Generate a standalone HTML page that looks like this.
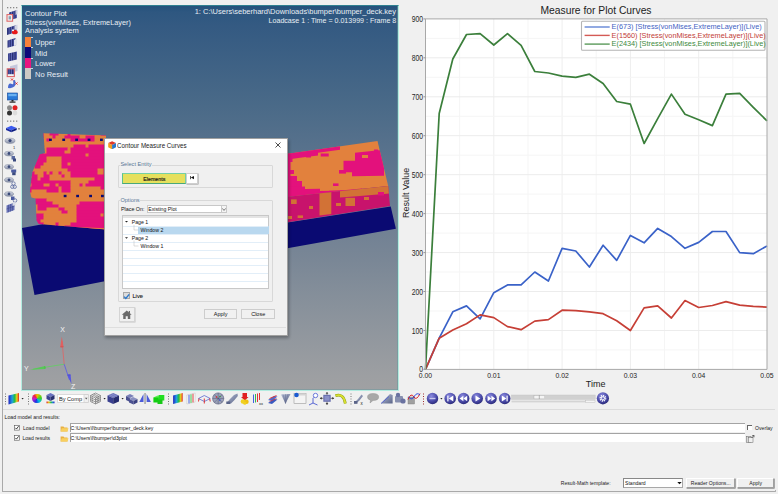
<!DOCTYPE html>
<html><head><meta charset="utf-8">
<style>
*{margin:0;padding:0;box-sizing:border-box}
html,body{width:778px;height:494px;overflow:hidden;background:#f0f0f0;font-family:"Liberation Sans",sans-serif}
.abs{position:absolute}
#vp{position:absolute;left:21px;top:5px;width:378px;height:386px;border:1px solid #b2ece0;border-top-color:#2f8090;box-shadow:inset -0.6px -0.6px 0 #6a9aa0;
 background:linear-gradient(to bottom,#24527c 0px,#2e5780 6px,#345a82 20px,#4a6a88 100px,#6a7c92 200px,#7a8796 255px,#858f9a 290px,#9d9fa2 370px,#a0a1a3 386px)}
.vt{position:absolute;color:#e8eef4;font-size:7.5px;white-space:nowrap;line-height:9px}
.sw{position:absolute;left:3.4px;width:5.5px;height:10.6px}
#chart text{font-family:"Liberation Sans",sans-serif}
.dlg{position:absolute;left:104px;top:138px;width:183px;height:197px;background:#f0f0f0;border:1px solid #b8b8b8;box-shadow:0 1px 3px rgba(0,0,0,.35)}
.ui{font-size:6px;color:#222;white-space:nowrap;position:absolute}
</style></head><body>
<!-- left border lines -->
<div class="abs" style="left:2px;top:0;width:1px;height:492px;background:#a9a9a9"></div>
<div class="abs" style="left:2px;top:490.8px;width:774px;height:1px;background:#a9a9a9"></div><div class="abs" style="left:775px;top:489.5px;width:1px;height:2px;background:#b0b0b0"></div>

<!-- viewport -->
<div id="vp">
  <div class="vt" style="left:3px;top:3px">Contour Plot</div>
  <div class="vt" style="left:3px;top:11.5px;font-size:7.3px">Stress(vonMises, ExtremeLayer)</div>
  <div class="vt" style="left:3px;top:20px">Analysis system</div>
  <div class="sw" style="top:30.9px;background:#f5813a"></div>
  <div class="sw" style="top:41.4px;background:#0a0a7a"></div>
  <div class="sw" style="top:51.9px;background:#e8157f"></div>
  <div class="sw" style="top:62.4px;background:#cdc9c4"></div>
  <div class="abs" style="left:8.9px;top:30.9px;width:2px;height:0.6px;background:#c8d4e4"></div>
  <div class="abs" style="left:8.9px;top:41.4px;width:2px;height:0.6px;background:#c8d4e4"></div>
  <div class="abs" style="left:8.9px;top:51.9px;width:2px;height:0.6px;background:#c8d4e4"></div>
  <div class="abs" style="left:8.9px;top:62.4px;width:2px;height:0.6px;background:#c8d4e4"></div>
  <div class="vt" style="left:13px;top:32px">Upper</div>
  <div class="vt" style="left:13px;top:42.5px">Mid</div>
  <div class="vt" style="left:13px;top:53px">Lower</div>
  <div class="vt" style="left:13px;top:63.5px">No Result</div>
  <div class="vt" style="right:2px;top:1.2px;text-align:right">1: C:\Users\seberhard\Downloads\bumper\bumper_deck.key</div>
  <div class="vt" style="right:2px;top:10.2px;text-align:right;transform:scaleX(0.944);transform-origin:100% 0">Loadcase 1 : Time = 0.013999 : Frame 8</div>
</div>

<!-- model -->
<svg class="abs" style="left:0;top:0" width="778" height="494" viewBox="0 0 778 494">
  <defs>
    <clipPath id="clL"><polygon points="43.4,133.3 106,135.6 106,229.5 38.7,224 36.6,220.6 35.6,198.5 31.4,197.5 29.9,191.2 32.4,172.2 39.8,154.3 45,153.3"/></clipPath>
    <clipPath id="clRT"><polygon points="286,153.9 377.5,140.9 388.2,185.9 286,197"/></clipPath>
    <clipPath id="clRS"><polygon points="286,197 388.2,185.9 390,206 286,222.6"/></clipPath>
  </defs>
  <polygon points="22,228 44,224 106,229 106,281 34.5,295" fill="#0a0a72"/>
  <polygon points="286,222.8 390.7,206.5 395.9,228.8 286,248.6" fill="#0a0a72"/>
  <g clip-path="url(#clL)"><rect x="28.5" y="132.5" width="15.5" height="3.6" fill="#e3117c"/><rect x="43.5" y="132.5" width="6.5" height="3.6" fill="#e2813d"/><rect x="49.5" y="132.5" width="9.5" height="3.6" fill="#e3117c"/><rect x="58.5" y="132.5" width="9.5" height="3.6" fill="#e2813d"/><rect x="67.5" y="132.5" width="3.5" height="3.6" fill="#e3117c"/><rect x="70.5" y="132.5" width="30.5" height="3.6" fill="#e2813d"/><rect x="100.5" y="132.5" width="6.5" height="3.6" fill="#e3117c"/><rect x="28.5" y="135.5" width="6.5" height="3.6" fill="#e2813d"/><rect x="34.5" y="135.5" width="9.5" height="3.6" fill="#e3117c"/><rect x="43.5" y="135.5" width="9.5" height="3.6" fill="#e2813d"/><rect x="52.5" y="135.5" width="3.5" height="3.6" fill="#e3117c"/><rect x="55.5" y="135.5" width="9.5" height="3.6" fill="#e2813d"/><rect x="64.5" y="135.5" width="15.5" height="3.6" fill="#e3117c"/><rect x="79.5" y="135.5" width="6.5" height="3.6" fill="#e2813d"/><rect x="85.5" y="135.5" width="9.5" height="3.6" fill="#e3117c"/><rect x="94.5" y="135.5" width="12.5" height="3.6" fill="#e2813d"/><rect x="28.5" y="138.5" width="9.5" height="3.6" fill="#e2813d"/><rect x="37.5" y="138.5" width="3.5" height="3.6" fill="#e3117c"/><rect x="40.5" y="138.5" width="6.5" height="3.6" fill="#e2813d"/><rect x="46.5" y="138.5" width="3.5" height="3.6" fill="#e3117c"/><rect x="49.5" y="138.5" width="21.5" height="3.6" fill="#e2813d"/><rect x="70.5" y="138.5" width="24.5" height="3.6" fill="#e3117c"/><rect x="94.5" y="138.5" width="12.5" height="3.6" fill="#e2813d"/><rect x="28.5" y="141.5" width="6.5" height="3.6" fill="#e3117c"/><rect x="34.5" y="141.5" width="72.5" height="3.6" fill="#e2813d"/><rect x="28.5" y="144.5" width="45.5" height="3.6" fill="#e2813d"/><rect x="73.5" y="144.5" width="12.5" height="3.6" fill="#e3117c"/><rect x="85.5" y="144.5" width="3.5" height="3.6" fill="#e2813d"/><rect x="88.5" y="144.5" width="18.5" height="3.6" fill="#e3117c"/><rect x="28.5" y="147.5" width="3.5" height="3.6" fill="#e3117c"/><rect x="31.5" y="147.5" width="15.5" height="3.6" fill="#e2813d"/><rect x="46.5" y="147.5" width="21.5" height="3.6" fill="#e3117c"/><rect x="67.5" y="147.5" width="3.5" height="3.6" fill="#e2813d"/><rect x="70.5" y="147.5" width="36.5" height="3.6" fill="#e3117c"/><rect x="28.5" y="150.5" width="9.5" height="3.6" fill="#e3117c"/><rect x="37.5" y="150.5" width="3.5" height="3.6" fill="#e2813d"/><rect x="40.5" y="150.5" width="3.5" height="3.6" fill="#e3117c"/><rect x="43.5" y="150.5" width="3.5" height="3.6" fill="#e2813d"/><rect x="46.5" y="150.5" width="18.5" height="3.6" fill="#e3117c"/><rect x="64.5" y="150.5" width="6.5" height="3.6" fill="#e2813d"/><rect x="70.5" y="150.5" width="36.5" height="3.6" fill="#e3117c"/><rect x="28.5" y="153.5" width="6.5" height="3.6" fill="#e2813d"/><rect x="34.5" y="153.5" width="51.5" height="3.6" fill="#e3117c"/><rect x="85.5" y="153.5" width="3.5" height="3.6" fill="#e2813d"/><rect x="88.5" y="153.5" width="18.5" height="3.6" fill="#e3117c"/><rect x="28.5" y="156.5" width="6.5" height="3.6" fill="#e2813d"/><rect x="34.5" y="156.5" width="12.5" height="3.6" fill="#e3117c"/><rect x="46.5" y="156.5" width="15.5" height="3.6" fill="#e2813d"/><rect x="61.5" y="156.5" width="45.5" height="3.6" fill="#e3117c"/><rect x="28.5" y="159.5" width="6.5" height="3.6" fill="#e2813d"/><rect x="34.5" y="159.5" width="12.5" height="3.6" fill="#e3117c"/><rect x="46.5" y="159.5" width="15.5" height="3.6" fill="#e2813d"/><rect x="61.5" y="159.5" width="45.5" height="3.6" fill="#e3117c"/><rect x="28.5" y="162.5" width="6.5" height="3.6" fill="#e2813d"/><rect x="34.5" y="162.5" width="9.5" height="3.6" fill="#e3117c"/><rect x="43.5" y="162.5" width="18.5" height="3.6" fill="#e2813d"/><rect x="61.5" y="162.5" width="6.5" height="3.6" fill="#e3117c"/><rect x="67.5" y="162.5" width="3.5" height="3.6" fill="#e2813d"/><rect x="70.5" y="162.5" width="36.5" height="3.6" fill="#e3117c"/><rect x="28.5" y="165.5" width="6.5" height="3.6" fill="#e2813d"/><rect x="34.5" y="165.5" width="6.5" height="3.6" fill="#e3117c"/><rect x="40.5" y="165.5" width="21.5" height="3.6" fill="#e2813d"/><rect x="61.5" y="165.5" width="45.5" height="3.6" fill="#e3117c"/><rect x="28.5" y="168.5" width="3.5" height="3.6" fill="#e3117c"/><rect x="31.5" y="168.5" width="36.5" height="3.6" fill="#e2813d"/><rect x="67.5" y="168.5" width="30.5" height="3.6" fill="#e3117c"/><rect x="97.5" y="168.5" width="6.5" height="3.6" fill="#e2813d"/><rect x="103.5" y="168.5" width="3.5" height="3.6" fill="#e3117c"/><rect x="28.5" y="171.5" width="6.5" height="3.6" fill="#e3117c"/><rect x="34.5" y="171.5" width="9.5" height="3.6" fill="#e2813d"/><rect x="43.5" y="171.5" width="3.5" height="3.6" fill="#e3117c"/><rect x="46.5" y="171.5" width="3.5" height="3.6" fill="#e2813d"/><rect x="49.5" y="171.5" width="3.5" height="3.6" fill="#e3117c"/><rect x="52.5" y="171.5" width="6.5" height="3.6" fill="#e2813d"/><rect x="58.5" y="171.5" width="3.5" height="3.6" fill="#e3117c"/><rect x="61.5" y="171.5" width="9.5" height="3.6" fill="#e2813d"/><rect x="70.5" y="171.5" width="27.5" height="3.6" fill="#e3117c"/><rect x="97.5" y="171.5" width="6.5" height="3.6" fill="#e2813d"/><rect x="103.5" y="171.5" width="3.5" height="3.6" fill="#e3117c"/><rect x="28.5" y="174.5" width="3.5" height="3.6" fill="#e2813d"/><rect x="31.5" y="174.5" width="6.5" height="3.6" fill="#e3117c"/><rect x="37.5" y="174.5" width="6.5" height="3.6" fill="#e2813d"/><rect x="43.5" y="174.5" width="6.5" height="3.6" fill="#e3117c"/><rect x="49.5" y="174.5" width="12.5" height="3.6" fill="#e2813d"/><rect x="61.5" y="174.5" width="3.5" height="3.6" fill="#e3117c"/><rect x="64.5" y="174.5" width="6.5" height="3.6" fill="#e2813d"/><rect x="70.5" y="174.5" width="36.5" height="3.6" fill="#e3117c"/><rect x="28.5" y="177.5" width="9.5" height="3.6" fill="#e3117c"/><rect x="37.5" y="177.5" width="3.5" height="3.6" fill="#e2813d"/><rect x="40.5" y="177.5" width="9.5" height="3.6" fill="#e3117c"/><rect x="49.5" y="177.5" width="45.5" height="3.6" fill="#e2813d"/><rect x="94.5" y="177.5" width="12.5" height="3.6" fill="#e3117c"/><rect x="28.5" y="180.5" width="42.5" height="3.6" fill="#e3117c"/><rect x="70.5" y="180.5" width="18.5" height="3.6" fill="#e2813d"/><rect x="88.5" y="180.5" width="18.5" height="3.6" fill="#e3117c"/><rect x="28.5" y="183.5" width="3.5" height="3.6" fill="#e2813d"/><rect x="31.5" y="183.5" width="12.5" height="3.6" fill="#e3117c"/><rect x="43.5" y="183.5" width="6.5" height="3.6" fill="#e2813d"/><rect x="49.5" y="183.5" width="6.5" height="3.6" fill="#e3117c"/><rect x="55.5" y="183.5" width="3.5" height="3.6" fill="#e2813d"/><rect x="58.5" y="183.5" width="12.5" height="3.6" fill="#e3117c"/><rect x="70.5" y="183.5" width="9.5" height="3.6" fill="#e2813d"/><rect x="79.5" y="183.5" width="3.5" height="3.6" fill="#e3117c"/><rect x="82.5" y="183.5" width="3.5" height="3.6" fill="#e2813d"/><rect x="85.5" y="183.5" width="21.5" height="3.6" fill="#e3117c"/><rect x="28.5" y="186.5" width="30.5" height="3.6" fill="#e3117c"/><rect x="58.5" y="186.5" width="3.5" height="3.6" fill="#e2813d"/><rect x="61.5" y="186.5" width="9.5" height="3.6" fill="#e3117c"/><rect x="70.5" y="186.5" width="30.5" height="3.6" fill="#e2813d"/><rect x="100.5" y="186.5" width="6.5" height="3.6" fill="#e3117c"/><rect x="28.5" y="189.5" width="3.5" height="3.6" fill="#e3117c"/><rect x="31.5" y="189.5" width="15.5" height="3.6" fill="#e2813d"/><rect x="46.5" y="189.5" width="12.5" height="3.6" fill="#e3117c"/><rect x="58.5" y="189.5" width="3.5" height="3.6" fill="#e2813d"/><rect x="61.5" y="189.5" width="9.5" height="3.6" fill="#e3117c"/><rect x="70.5" y="189.5" width="36.5" height="3.6" fill="#e2813d"/><rect x="28.5" y="192.5" width="78.5" height="3.6" fill="#e2813d"/><rect x="28.5" y="195.5" width="78.5" height="3.6" fill="#e2813d"/><rect x="28.5" y="198.5" width="6.5" height="3.6" fill="#e2813d"/><rect x="34.5" y="198.5" width="12.5" height="3.6" fill="#e3117c"/><rect x="46.5" y="198.5" width="60.5" height="3.6" fill="#e2813d"/><rect x="28.5" y="201.5" width="6.5" height="3.6" fill="#e2813d"/><rect x="34.5" y="201.5" width="18.5" height="3.6" fill="#e3117c"/><rect x="52.5" y="201.5" width="27.5" height="3.6" fill="#e2813d"/><rect x="79.5" y="201.5" width="27.5" height="3.6" fill="#e3117c"/><rect x="28.5" y="204.5" width="9.5" height="3.6" fill="#e2813d"/><rect x="37.5" y="204.5" width="21.5" height="3.6" fill="#e3117c"/><rect x="58.5" y="204.5" width="18.5" height="3.6" fill="#e2813d"/><rect x="76.5" y="204.5" width="30.5" height="3.6" fill="#e3117c"/><rect x="28.5" y="207.5" width="3.5" height="3.6" fill="#e3117c"/><rect x="31.5" y="207.5" width="6.5" height="3.6" fill="#e2813d"/><rect x="37.5" y="207.5" width="9.5" height="3.6" fill="#e3117c"/><rect x="46.5" y="207.5" width="12.5" height="3.6" fill="#e2813d"/><rect x="58.5" y="207.5" width="6.5" height="3.6" fill="#e3117c"/><rect x="64.5" y="207.5" width="12.5" height="3.6" fill="#e2813d"/><rect x="76.5" y="207.5" width="30.5" height="3.6" fill="#e3117c"/><rect x="28.5" y="210.5" width="3.5" height="3.6" fill="#e3117c"/><rect x="31.5" y="210.5" width="30.5" height="3.6" fill="#e2813d"/><rect x="61.5" y="210.5" width="6.5" height="3.6" fill="#e3117c"/><rect x="67.5" y="210.5" width="9.5" height="3.6" fill="#e2813d"/><rect x="76.5" y="210.5" width="30.5" height="3.6" fill="#e3117c"/><rect x="28.5" y="213.5" width="6.5" height="3.6" fill="#e2813d"/><rect x="34.5" y="213.5" width="9.5" height="3.6" fill="#e3117c"/><rect x="43.5" y="213.5" width="33.5" height="3.6" fill="#e2813d"/><rect x="76.5" y="213.5" width="24.5" height="3.6" fill="#e3117c"/><rect x="100.5" y="213.5" width="3.5" height="3.6" fill="#e2813d"/><rect x="103.5" y="213.5" width="3.5" height="3.6" fill="#e3117c"/><rect x="28.5" y="216.5" width="6.5" height="3.6" fill="#e2813d"/><rect x="34.5" y="216.5" width="9.5" height="3.6" fill="#e3117c"/><rect x="43.5" y="216.5" width="33.5" height="3.6" fill="#e2813d"/><rect x="76.5" y="216.5" width="30.5" height="3.6" fill="#e3117c"/><rect x="28.5" y="219.5" width="3.5" height="3.6" fill="#e2813d"/><rect x="31.5" y="219.5" width="9.5" height="3.6" fill="#e3117c"/><rect x="40.5" y="219.5" width="36.5" height="3.6" fill="#e2813d"/><rect x="76.5" y="219.5" width="30.5" height="3.6" fill="#e3117c"/><rect x="28.5" y="222.5" width="15.5" height="3.6" fill="#e3117c"/><rect x="43.5" y="222.5" width="12.5" height="3.6" fill="#e2813d"/><rect x="55.5" y="222.5" width="3.5" height="3.6" fill="#e3117c"/><rect x="58.5" y="222.5" width="12.5" height="3.6" fill="#e2813d"/><rect x="70.5" y="222.5" width="36.5" height="3.6" fill="#e3117c"/><rect x="28.5" y="225.5" width="30.5" height="3.6" fill="#e3117c"/><rect x="58.5" y="225.5" width="6.5" height="3.6" fill="#e2813d"/><rect x="64.5" y="225.5" width="42.5" height="3.6" fill="#e3117c"/><rect x="28.5" y="228.5" width="18.5" height="3.6" fill="#e3117c"/><rect x="46.5" y="228.5" width="21.5" height="3.6" fill="#e2813d"/><rect x="67.5" y="228.5" width="21.5" height="3.6" fill="#e3117c"/><rect x="88.5" y="228.5" width="12.5" height="3.6" fill="#e2813d"/><rect x="100.5" y="228.5" width="3.5" height="3.6" fill="#e3117c"/><rect x="103.5" y="228.5" width="3.5" height="3.6" fill="#e2813d"/><polygon points="38,225.6 106,228.2 106,230 38,227.2" fill="#e2813d"/><rect x="49.0" y="138.6" width="2.8" height="2.4" fill="#0a0a72"/><rect x="62.3" y="138.6" width="2.8" height="2.4" fill="#0a0a72"/><rect x="75.2" y="138.6" width="2.8" height="2.4" fill="#0a0a72"/><rect x="87.6" y="138.6" width="2.8" height="2.4" fill="#0a0a72"/><rect x="100.0" y="138.6" width="2.8" height="2.4" fill="#0a0a72"/><rect x="63.7" y="194.8" width="2.8" height="2.4" fill="#0a0a72"/><rect x="76.2" y="194.8" width="2.8" height="2.4" fill="#0a0a72"/><rect x="89.2" y="194.8" width="2.8" height="2.4" fill="#0a0a72"/><rect x="101.0" y="194.8" width="2.8" height="2.4" fill="#0a0a72"/></g>
  <g clip-path="url(#clRT)"><rect x="285" y="139" width="106" height="60" fill="#e2813d"/><polygon points="285,150 340,142 340,149.8 318,152.8 318,155.5 300,157.8 285,160" fill="#e3117c"/><rect x="285" y="150" width="5.5" height="50" fill="#e3117c"/><rect x="290" y="158" width="2.5" height="4" fill="#e3117c"/><rect x="290" y="170" width="4" height="4" fill="#e3117c"/><rect x="290" y="176" width="7" height="12" fill="#e3117c"/><rect x="296" y="181" width="6" height="8" fill="#e3117c"/><rect x="320.7" y="153.5" width="8" height="3" fill="#e3117c"/><rect x="306" y="155" width="5" height="2.5" fill="#e3117c"/><polygon points="285,187 305,186.5 305,189 320,188.8 320,191 346,190 362,188.5 362,200 285,200" fill="#e3117c"/><polygon points="355,152.7 381,150 384,160 384,175.8 352,176.2 352,172.3 343.5,172.3 343.5,160.7 355,160.7" fill="#e3117c"/><rect x="339" y="170" width="7" height="3.6" fill="#e3117c"/><rect x="333" y="183.4" width="5.5" height="2.6" fill="#e3117c"/><rect x="323" y="188" width="6" height="2.5" fill="#e2813d"/><rect x="374" y="149.5" width="4" height="3" fill="#e3117c"/><rect x="362" y="155" width="6" height="3" fill="#e2813d"/></g>
  <g clip-path="url(#clRS)"><rect x="285" y="183" width="108" height="42" fill="#c8136c"/><polygon points="319.5,193 331.3,192 331.3,214 319.5,215.5" fill="#d27236"/><rect x="345.5" y="197.8" width="9.5" height="8.2" fill="#d27236"/><polygon points="340,190 389,184.5 389.5,193.5 360,196 340,197.5" fill="#d27236"/><rect x="291" y="199.4" width="5.7" height="4.6" fill="#d27236"/><rect x="288" y="216" width="4" height="3" fill="#d27236"/><rect x="297.6" y="215.4" width="5.4" height="2.6" fill="#d27236"/><rect x="378" y="192" width="6" height="3.5" fill="#e3117c"/><rect x="336" y="203" width="5" height="3" fill="#d27236"/><rect x="364" y="197" width="5" height="3" fill="#d27236"/><rect x="309" y="206" width="4" height="3" fill="#d27236"/></g>
</svg>

<!-- triad -->
<svg class="abs" style="left:0;top:0" width="120" height="394" viewBox="0 0 120 394">
  <line x1="64.2" y1="364.2" x2="62" y2="341" stroke="#d86a6a" stroke-width="0.9"/>
  <polygon points="61.8,336.5 63.6,347 60.2,347.2" fill="#e06060"/>
  <ellipse cx="61.9" cy="346.8" rx="1.8" ry="0.8" fill="#d05858"/>
  <line x1="64.2" y1="364.2" x2="33" y2="369.2" stroke="#60d060" stroke-width="0.8"/>
  <polygon points="29.8,369.7 45,366 45.5,369" fill="#58c858"/>
  <ellipse cx="44.8" cy="367.5" rx="0.8" ry="1.6" fill="#50c050"/>
  <line x1="64.2" y1="364.2" x2="69.5" y2="380" stroke="#6060e0" stroke-width="0.9"/>
  <polygon points="71.5,384 67.4,375.2 70.6,374.5" fill="#5858e0"/>
  <ellipse cx="69" cy="375" rx="1.7" ry="0.8" fill="#5050d8"/>
  <g font-family="'Liberation Sans', sans-serif" font-size="7" fill="#f4f4f4" text-anchor="middle">
    <text x="62.6" y="331.6">X</text>
    <text x="26.3" y="371">Y</text>
    <text x="73.2" y="389">Z</text>
  </g>
</svg>

<!-- chart -->
<svg id="chart" class="abs" style="left:0;top:0" width="778" height="494" viewBox="0 0 778 494">
<rect x="425.5" y="18.9" width="341.5" height="350.5" fill="#fff"/>
<line x1="459.6" y1="18.9" x2="459.6" y2="369.4" stroke="#f5f5f5" stroke-width="1"/>
<line x1="493.8" y1="18.9" x2="493.8" y2="369.4" stroke="#eeeeee" stroke-width="1"/>
<line x1="528.0" y1="18.9" x2="528.0" y2="369.4" stroke="#f5f5f5" stroke-width="1"/>
<line x1="562.1" y1="18.9" x2="562.1" y2="369.4" stroke="#eeeeee" stroke-width="1"/>
<line x1="596.2" y1="18.9" x2="596.2" y2="369.4" stroke="#f5f5f5" stroke-width="1"/>
<line x1="630.4" y1="18.9" x2="630.4" y2="369.4" stroke="#eeeeee" stroke-width="1"/>
<line x1="664.5" y1="18.9" x2="664.5" y2="369.4" stroke="#f5f5f5" stroke-width="1"/>
<line x1="698.7" y1="18.9" x2="698.7" y2="369.4" stroke="#eeeeee" stroke-width="1"/>
<line x1="732.8" y1="18.9" x2="732.8" y2="369.4" stroke="#f5f5f5" stroke-width="1"/>
<line x1="425.5" y1="349.9" x2="767.0" y2="349.9" stroke="#f5f5f5" stroke-width="1"/>
<line x1="425.5" y1="330.5" x2="767.0" y2="330.5" stroke="#ececec" stroke-width="1"/>
<line x1="425.5" y1="311.0" x2="767.0" y2="311.0" stroke="#f5f5f5" stroke-width="1"/>
<line x1="425.5" y1="291.5" x2="767.0" y2="291.5" stroke="#ececec" stroke-width="1"/>
<line x1="425.5" y1="272.0" x2="767.0" y2="272.0" stroke="#f5f5f5" stroke-width="1"/>
<line x1="425.5" y1="252.6" x2="767.0" y2="252.6" stroke="#ececec" stroke-width="1"/>
<line x1="425.5" y1="233.1" x2="767.0" y2="233.1" stroke="#f5f5f5" stroke-width="1"/>
<line x1="425.5" y1="213.6" x2="767.0" y2="213.6" stroke="#ececec" stroke-width="1"/>
<line x1="425.5" y1="194.1" x2="767.0" y2="194.1" stroke="#f5f5f5" stroke-width="1"/>
<line x1="425.5" y1="174.7" x2="767.0" y2="174.7" stroke="#ececec" stroke-width="1"/>
<line x1="425.5" y1="155.2" x2="767.0" y2="155.2" stroke="#f5f5f5" stroke-width="1"/>
<line x1="425.5" y1="135.7" x2="767.0" y2="135.7" stroke="#ececec" stroke-width="1"/>
<line x1="425.5" y1="116.3" x2="767.0" y2="116.3" stroke="#f5f5f5" stroke-width="1"/>
<line x1="425.5" y1="96.8" x2="767.0" y2="96.8" stroke="#ececec" stroke-width="1"/>
<line x1="425.5" y1="77.3" x2="767.0" y2="77.3" stroke="#f5f5f5" stroke-width="1"/>
<line x1="425.5" y1="57.8" x2="767.0" y2="57.8" stroke="#ececec" stroke-width="1"/>
<line x1="425.5" y1="38.4" x2="767.0" y2="38.4" stroke="#f5f5f5" stroke-width="1"/>
<polyline points="425.5,369.4 439.2,338.2 452.8,311.8 466.5,305.9 480.1,318.8 493.8,292.7 507.5,284.9 521.1,284.9 534.8,272.0 548.4,281.0 562.1,248.3 575.8,251.0 589.4,267.0 603.1,245.2 616.7,260.4 630.4,235.4 644.1,242.8 657.7,228.4 671.4,236.6 685.0,248.3 698.7,242.4 712.4,231.5 726.0,231.5 739.7,252.6 753.3,253.7 767.0,245.9" fill="none" stroke="#3a62c8" stroke-width="1.7" stroke-linejoin="round"/>
<polyline points="425.5,369.4 439.2,338.2 452.8,330.1 466.5,323.8 480.1,314.9 493.8,317.6 507.5,326.6 521.1,329.7 534.8,321.1 548.4,319.6 562.1,310.2 575.8,310.6 589.4,311.8 603.1,313.7 616.7,320.7 630.4,330.5 644.1,307.9 657.7,305.9 671.4,318.0 685.0,300.5 698.7,307.5 712.4,305.5 726.0,301.6 739.7,305.1 753.3,306.3 767.0,307.1" fill="none" stroke="#c63f36" stroke-width="1.7" stroke-linejoin="round"/>
<polyline points="425.5,369.4 439.2,113.5 452.8,59.0 466.5,34.5 480.1,33.7 493.8,45.0 507.5,33.7 521.1,45.4 534.8,71.5 548.4,73.0 562.1,76.1 575.8,77.3 589.4,74.2 603.1,83.5 616.7,101.5 630.4,104.2 644.1,143.5 657.7,118.6 671.4,94.1 685.0,114.3 698.7,119.8 712.4,125.6 726.0,94.1 739.7,93.3 753.3,107.3 767.0,120.9" fill="none" stroke="#3b7f3b" stroke-width="1.7" stroke-linejoin="round"/>
<path d="M425.5,369.4 V18.9 H767.0 V369.4 Z" fill="none" stroke="#a8a8a8" stroke-width="1"/>
<line x1="423.5" y1="369.4" x2="425.5" y2="369.4" stroke="#999" stroke-width="1"/>
<line x1="423.5" y1="330.5" x2="425.5" y2="330.5" stroke="#999" stroke-width="1"/>
<line x1="423.5" y1="291.5" x2="425.5" y2="291.5" stroke="#999" stroke-width="1"/>
<line x1="423.5" y1="252.6" x2="425.5" y2="252.6" stroke="#999" stroke-width="1"/>
<line x1="423.5" y1="213.6" x2="425.5" y2="213.6" stroke="#999" stroke-width="1"/>
<line x1="423.5" y1="174.7" x2="425.5" y2="174.7" stroke="#999" stroke-width="1"/>
<line x1="423.5" y1="135.7" x2="425.5" y2="135.7" stroke="#999" stroke-width="1"/>
<line x1="423.5" y1="96.8" x2="425.5" y2="96.8" stroke="#999" stroke-width="1"/>
<line x1="423.5" y1="57.8" x2="425.5" y2="57.8" stroke="#999" stroke-width="1"/>
<line x1="423.5" y1="18.9" x2="425.5" y2="18.9" stroke="#999" stroke-width="1"/>
<g font-size="8.5" fill="#262626"><text transform="translate(423.1,372.4) scale(0.8,1)" text-anchor="end">0</text><text transform="translate(423.1,333.5) scale(0.8,1)" text-anchor="end">100</text><text transform="translate(423.1,294.5) scale(0.8,1)" text-anchor="end">200</text><text transform="translate(423.1,255.6) scale(0.8,1)" text-anchor="end">300</text><text transform="translate(423.1,216.6) scale(0.8,1)" text-anchor="end">400</text><text transform="translate(423.1,177.7) scale(0.8,1)" text-anchor="end">500</text><text transform="translate(423.1,138.7) scale(0.8,1)" text-anchor="end">600</text><text transform="translate(423.1,99.8) scale(0.8,1)" text-anchor="end">700</text><text transform="translate(423.1,60.8) scale(0.8,1)" text-anchor="end">800</text><text transform="translate(423.1,21.9) scale(0.8,1)" text-anchor="end">900</text></g>
<g font-size="7.8" fill="#262626"><text transform="translate(425.5,378.05) scale(0.88,1)" text-anchor="middle">0.00</text><text transform="translate(493.8,378.05) scale(0.88,1)" text-anchor="middle">0.01</text><text transform="translate(562.1,378.05) scale(0.88,1)" text-anchor="middle">0.02</text><text transform="translate(630.4,378.05) scale(0.88,1)" text-anchor="middle">0.03</text><text transform="translate(698.7,378.05) scale(0.88,1)" text-anchor="middle">0.04</text><text transform="translate(767.0,378.05) scale(0.88,1)" text-anchor="middle">0.05</text></g>
<text x="595.7" y="386.6" font-size="9" fill="#222" text-anchor="middle">Time</text>
<text transform="translate(408.5,192.8) rotate(-90)" font-size="9" fill="#222" text-anchor="middle">Result Value</text>
<text x="596" y="13.8" font-size="10.3" fill="#222" text-anchor="middle">Measure for Plot Curves</text>
<rect x="581.5" y="21.3" width="183.5" height="28.9" rx="1" fill="#fff" stroke="#b4b4b4" stroke-width="1.1"/>
<line x1="584.6" y1="27" x2="609.7" y2="27" stroke="#6486d6" stroke-width="1.4"/>
<line x1="584.6" y1="35.4" x2="609.7" y2="35.4" stroke="#d45a55" stroke-width="1.4"/>
<line x1="584.6" y1="44.1" x2="609.7" y2="44.1" stroke="#5a9a5a" stroke-width="1.4"/>
<g font-size="7.3">
<text x="611.6" y="29.2" fill="#3f63c4">E(673) [Stress(vonMises,ExtremeLayer)](Live)</text>
<text x="611.6" y="37.6" fill="#c24038">E(1560) [Stress(vonMises,ExtremeLayer)](Live)</text>
<text x="611.6" y="46.4" fill="#3d8a3d">E(2434) [Stress(vonMises,ExtremeLayer)](Live)</text>
</g>
</svg>

<!-- dialog -->
<div class="abs" style="left:104px;top:138px;width:183.6px;height:197.6px;background:#f0f0f0;border:1px solid #a0a0a0;box-shadow:1px 2px 3px rgba(0,0,0,.3)"></div>
<div class="abs" style="left:105px;top:139px;width:181.6px;height:13.6px;background:#fff"></div>
<svg class="abs" style="left:107.5px;top:140.8px" width="8.2" height="8.4" viewBox="0 0 8.2 8.4">
  <polygon points="4.1,0.2 8,2 4.1,3.9 0.2,2" fill="#e03a2a"/>
  <polygon points="0.2,2 4.1,3.9 4.1,8.3 0.2,6.3" fill="#f0a020"/>
  <polygon points="8,2 4.1,3.9 4.1,8.3 8,6.3" fill="#2a78c8"/>
</svg>
<div class="ui" style="left:117px;top:141.6px;font-size:7px;color:#1a1a1a;transform:scaleX(0.89);transform-origin:0 0">Contour Measure Curves</div>
<svg class="abs" style="left:274.9px;top:142.3px" width="6" height="6" viewBox="0 0 6 6"><path d="M0.5,0.5 L5.5,5.5 M5.5,0.5 L0.5,5.5" stroke="#222" stroke-width="0.8"/></svg>

<!-- select entity group -->
<div class="abs" style="left:118.3px;top:165.4px;width:154.6px;height:22.8px;border:1px solid #d8d8d8;border-radius:1px"></div>
<div class="ui" style="left:119.8px;top:161.3px;font-size:5.6px;color:#5a7896;background:#f0f0f0;padding:0 0.6px">Select Entity</div>
<div class="abs" style="left:122.3px;top:172.8px;width:64.1px;height:11.1px;background:#e6e05c;border:1px solid #74d0a4;border-left-color:#5cc48c;border-bottom-color:#4aa878"></div>
<div class="ui" style="left:122.3px;top:175.5px;width:64.1px;text-align:center;font-size:5.3px;color:#111;-webkit-text-stroke:0.15px #111">Elements</div>
<div class="abs" style="left:186.4px;top:172.8px;width:12px;height:11.1px;background:#fff;border:1px solid #cfcfcf;box-shadow:0.5px 0.5px 0 #999"></div>
<svg class="abs" style="left:189.6px;top:176.4px" width="4" height="3.2" viewBox="0 0 5 4"><rect x="0" y="0" width="0.9" height="4" fill="#111"/><polygon points="5,0 1,2 5,4" fill="#111"/></svg>

<!-- options group -->
<div class="abs" style="left:118.3px;top:200.4px;width:154.6px;height:101.6px;border:1px solid #d8d8d8;border-radius:1px"></div>
<div class="ui" style="left:119.8px;top:196.8px;font-size:5.6px;color:#5a7896;background:#f0f0f0;padding:0 0.6px">Options</div>
<div class="ui" style="left:120.9px;top:206.3px;font-size:5.4px;color:#111">Place On:</div>
<div class="abs" style="left:146.6px;top:204.6px;width:80.7px;height:8.9px;background:#fff;border:1px solid #c8c8c8"></div>
<div class="abs" style="left:220.8px;top:204.6px;width:6.5px;height:8.9px;background:#f4f4f4;border:1px solid #c8c8c8"></div>
<svg class="abs" style="left:222.4px;top:207.8px" width="4" height="3" viewBox="0 0 4 3"><path d="M0.3,0.4 L2,2.4 L3.7,0.4" fill="none" stroke="#444" stroke-width="0.7"/></svg>
<div class="ui" style="left:148.2px;top:206.4px;font-size:5.2px;color:#111">Existing Plot</div>

<!-- tree -->
<div class="abs" style="left:121.9px;top:214.7px;width:147.5px;height:74px;background:#fff;border:1px solid #c8c8c8"></div>
<div class="abs" style="left:122.9px;top:215.7px;width:145.5px;height:2px;background:#e4e4e4"></div>
<div class="abs" style="left:138.4px;top:226.3px;width:130.8px;height:7.3px;background:#b9d8ef"></div>
<div class="abs" style="left:122.9px;top:233.9px;width:145.5px;height:0.6px;background:#e2eef8"></div>
<div class="abs" style="left:122.9px;top:241.8px;width:145.5px;height:0.6px;background:#e2eef8"></div>
<div class="abs" style="left:122.9px;top:249.7px;width:145.5px;height:0.6px;background:#e2eef8"></div>
<div class="abs" style="left:122.9px;top:257.5px;width:145.5px;height:0.6px;background:#e2eef8"></div>
<div class="abs" style="left:122.9px;top:265.3px;width:145.5px;height:0.6px;background:#e2eef8"></div>
<div class="abs" style="left:122.9px;top:273.1px;width:145.5px;height:0.6px;background:#e2eef8"></div>
<div class="abs" style="left:122.9px;top:280.9px;width:145.5px;height:0.6px;background:#e2eef8"></div>
<div class="abs" style="left:122.9px;top:225.9px;width:145.5px;height:0.6px;background:#e2eef8"></div>
<svg class="abs" style="left:124.5px;top:221px" width="3" height="20" viewBox="0 0 3 20"><polygon points="0,0 3,0 1.5,1.6" fill="#222"/><polygon points="0,16.2 3,16.2 1.5,17.8" fill="#222"/></svg>
<svg class="abs" style="left:133px;top:225px" width="6" height="24" viewBox="0 0 6 24"><path d="M1,0 V5 H5.5 M1,15.5 V21 H5.5" fill="none" stroke="#b8b8b8" stroke-width="0.5"/></svg>
<div class="ui" style="left:131.7px;top:219px;font-size:5.2px;color:#111">Page 1</div>
<div class="ui" style="left:140.5px;top:226.8px;font-size:5.2px;color:#111">Window 2</div>
<div class="ui" style="left:131.7px;top:235px;font-size:5.2px;color:#111">Page 2</div>
<div class="ui" style="left:140.5px;top:243.3px;font-size:5.2px;color:#111">Window 1</div>

<!-- live checkbox -->
<div class="abs" style="left:122.5px;top:292.3px;width:7.3px;height:7.1px;background:#dcdcdc;border:1px solid #a8a8a8"></div>
<svg class="abs" style="left:123px;top:292.6px" width="7" height="7" viewBox="0 0 7 7"><path d="M1.1,3.6 L2.8,5.5 L6.2,1.4" fill="none" stroke="#2a78cc" stroke-width="1.4"/></svg>
<div class="ui" style="left:132.4px;top:293.2px;font-size:5.8px;color:#111;-webkit-text-stroke:0.1px #111">Live</div>

<!-- buttons -->
<div class="abs" style="left:119px;top:306.5px;width:15.7px;height:15.1px;background:#f0f0f0;border:1px solid #d4d4d4;box-shadow:0.5px 0.5px 0 #c4c4c4"></div>
<svg class="abs" style="left:121px;top:310.3px" width="11.5" height="9.5" viewBox="0 0 11 10"><polygon points="5.5,0.5 10.7,5 9.2,5 9.2,9.5 6.6,9.5 6.6,6.6 4.4,6.6 4.4,9.5 1.8,9.5 1.8,5 0.3,5" fill="#6a6a6a"/><rect x="7.6" y="1" width="1.3" height="2.4" fill="#6a6a6a"/></svg>
<div class="abs" style="left:203.8px;top:309px;width:33.7px;height:9.7px;background:#f1f1f1;border:1px solid #cdcdcd"></div>
<div class="ui" style="left:203.8px;top:311.2px;width:33.7px;text-align:center;font-size:5.5px;color:#111">Apply</div>
<div class="abs" style="left:241.1px;top:309px;width:34.2px;height:9.7px;background:#f1f1f1;border:1px solid #cdcdcd"></div>
<div class="ui" style="left:241.1px;top:311.2px;width:34.2px;text-align:center;font-size:5.5px;color:#111">Close</div>
<div class="abs" style="left:105px;top:326.8px;width:181px;height:0.8px;background:#dedede"></div>


<!-- left toolbar -->
<svg class="abs" style="left:0;top:0" width="22" height="220" viewBox="0 0 22 220">
  <defs>
    <linearGradient id="gSheet" x1="0" y1="0" x2="1" y2="1"><stop offset="0" stop-color="#5a6ad0"/><stop offset="1" stop-color="#1c2470"/></linearGradient>
    <pattern id="pStripe" width="2.4" height="10" patternUnits="userSpaceOnUse"><rect width="2.4" height="10" fill="#262e72"/><rect x="1.4" width="0.9" height="10" fill="#6a72c4"/></pattern>
    <linearGradient id="gEye" x1="0" y1="0" x2="0" y2="1"><stop offset="0" stop-color="#d8dce8"/><stop offset="1" stop-color="#8890a8"/></linearGradient>
  </defs>
  <g fill="#8a8a8a"><rect x="7" y="7" width="1.3" height="1.3"/><rect x="10" y="7" width="1.3" height="1.3"/><rect x="13" y="7" width="1.3" height="1.3"/><rect x="16" y="7" width="1.3" height="1.3"/></g>
  <!-- icon1 -->
  <polygon points="9,12.5 17,10 17,18 9,20.5" fill="url(#pStripe)"/>
  <polygon points="15.5,10.5 17.5,9.8 17.5,14 15.5,15" fill="#c8cce0"/>
  <rect x="7" y="14.6" width="5.6" height="6.6" fill="#eef2f4" stroke="#e06a6a" stroke-width="1.1"/>
  <rect x="8.6" y="16.2" width="2.4" height="3.2" fill="#8aa0b0"/>
  <!-- icon2 -->
  <polygon points="7,28 16.5,25 16.5,32 7,35" fill="url(#pStripe)"/>
  <polygon points="14.5,25.7 17.5,24.5 17.5,29 14.5,30" fill="#d0d4e4"/>
  <ellipse cx="14.8" cy="32.2" rx="2.9" ry="2.1" fill="#e81818"/>
  <rect x="12" y="29.5" width="2" height="1.6" fill="#f0f0f0"/>
  <!-- icon3 -->
  <polygon points="7.5,40.5 15.5,38 15.5,45.5 7.5,47.8" fill="url(#pStripe)"/>
  <polygon points="14,40 17,38.5 17,45 14,46" fill="#e0e2ea"/>
  <!-- icon4 -->
  <polygon points="8,53.5 17,51.4 17,59.4 8,61.5" fill="url(#pStripe)"/>
  <!-- icon5 -->
  <polygon points="10,66.3 17.5,64.3 17.5,71 10,73" fill="#c4c8dc"/>
  <rect x="7.2" y="68.8" width="7.2" height="7.8" fill="url(#pStripe)" stroke="#e06a6a" stroke-width="1.1"/>
  <rect x="7.8" y="74.2" width="6" height="1.8" fill="#f4f4f4"/>
  <!-- icon6 -->
  <path d="M8,88 Q8,82 12,84 Q14,85 13,80.5 L15,80 Q17,86 12.5,87.5 Q10,88.5 10,88.3 Z" fill="#4a6ad0"/>
  <g stroke="#e02020" stroke-width="0.9"><path d="M11,78.5 l2,2 M13,78.5 l-2,2 M15.5,82.5 l2,2 M17.5,82.5 l-2,2"/></g>
  <!-- icon7 monitor -->
  <rect x="7.4" y="93" width="10.1" height="7" fill="#2a7ad8" stroke="#1a4a98" stroke-width="0.6"/>
  <rect x="8.3" y="93.8" width="8.3" height="2.4" fill="#6ab0f0"/>
  <rect x="11.5" y="100" width="2" height="1.6" fill="#222"/>
  <rect x="9.5" y="101.5" width="6" height="1.2" fill="#222"/>
  <!-- icon8 balls -->
  <circle cx="9.5" cy="107.8" r="2.5" fill="#8a8a8a"/>
  <circle cx="15" cy="107.8" r="2.5" fill="#e02020"/>
  <circle cx="9.5" cy="113" r="2.5" fill="#333"/>
  <circle cx="15" cy="113" r="2.4" fill="#ddd"/>
  <g fill="#8a8a8a"><rect x="7" y="120.5" width="1.3" height="1.3"/><rect x="10" y="120.5" width="1.3" height="1.3"/><rect x="13" y="120.5" width="1.3" height="1.3"/><rect x="16" y="120.5" width="1.3" height="1.3"/></g>
  <!-- blue cube -->
  <polygon points="6,128 11.3,125.7 16.7,128 11.3,130.3" fill="#3a5af0"/>
  <polygon points="6,128 11.3,130.3 11.3,132.2 6,130" fill="#1a2aa0"/>
  <polygon points="16.7,128 11.3,130.3 11.3,132.2 16.7,130" fill="#0a1a80"/>
  <polygon points="18,128.5 20,128.5 19,129.8" fill="#111"/>
  <!-- eyes -->
  <g>
    <ellipse cx="10" cy="140.8" rx="5" ry="2.6" fill="url(#gEye)" stroke="#7a8298" stroke-width="0.5"/>
    <circle cx="10" cy="140.6" r="1.6" fill="#3a4a78"/>
    <text x="13" y="148.5" font-size="4" fill="#333" font-family="'Liberation Sans', sans-serif">1</text>
    <ellipse cx="9" cy="153.6" rx="4.5" ry="2.3" fill="url(#gEye)" stroke="#7a8298" stroke-width="0.5"/>
    <circle cx="9" cy="153.5" r="1.4" fill="#3a4a78"/>
    <rect x="11.5" y="156" width="3.5" height="3.5" fill="#5a6aa0"/><rect x="13" y="158.5" width="3" height="3" fill="#3a4a80"/>
    <ellipse cx="9" cy="166.8" rx="4.5" ry="2.3" fill="url(#gEye)" stroke="#7a8298" stroke-width="0.5"/>
    <circle cx="9" cy="166.7" r="1.4" fill="#3a4a78"/>
    <rect x="11.2" y="169.5" width="5" height="3" fill="#4a5aa0"/><rect x="12.2" y="172.2" width="3.4" height="3" fill="#3a4a80"/>
    <ellipse cx="9" cy="179.9" rx="4.5" ry="2.3" fill="url(#gEye)" stroke="#7a8298" stroke-width="0.5"/>
    <circle cx="9" cy="179.8" r="1.4" fill="#3a4a78"/>
    <circle cx="13.5" cy="183.5" r="1.7" fill="none" stroke="#5a6aa0" stroke-width="0.8"/><circle cx="12.3" cy="186.8" r="1.7" fill="none" stroke="#5a6aa0" stroke-width="0.8"/><circle cx="14.7" cy="186.8" r="1.7" fill="none" stroke="#5a6aa0" stroke-width="0.8"/>
    <ellipse cx="9" cy="194" rx="4.5" ry="2.3" fill="url(#gEye)" stroke="#7a8298" stroke-width="0.5"/>
    <circle cx="9" cy="193.9" r="1.4" fill="#3a4a78"/>
    <rect x="11" y="196.5" width="3.5" height="3.5" fill="#4a5aa0"/><circle cx="15" cy="200.5" r="1.8" fill="none" stroke="#5a6aa0" stroke-width="0.8"/>
  </g>
  <polygon points="6.5,205.5 14.5,202.5 14.5,210 6.5,213" fill="#6a74b8"/><g stroke="#3a4488" stroke-width="0.5"><line x1="8.5" y1="204.8" x2="8.5" y2="212.3"/><line x1="10.5" y1="204" x2="10.5" y2="211.5"/><line x1="12.5" y1="203.3" x2="12.5" y2="210.8"/><line x1="6.5" y1="209" x2="14.5" y2="206"/></g><polygon points="12.5,202.8 15.5,201.8 15.5,205 12.5,206" fill="#d8dce8"/>
</svg>

<!-- bottom toolbar -->
<svg class="abs" style="left:0;top:390" width="620" height="20" viewBox="0 390 620 20">
  <defs>
    <linearGradient id="gRain" x1="0" y1="0" x2="1" y2="0"><stop offset="0" stop-color="#e02020"/><stop offset="0.3" stop-color="#f0d020"/><stop offset="0.55" stop-color="#20c040"/><stop offset="0.8" stop-color="#2080e0"/><stop offset="1" stop-color="#2020c0"/></linearGradient>
    <linearGradient id="gRain2" x1="0" y1="0" x2="1" y2="0"><stop offset="0" stop-color="#2020c0"/><stop offset="0.35" stop-color="#20a0e0"/><stop offset="0.6" stop-color="#20c040"/><stop offset="0.8" stop-color="#f0d020"/><stop offset="1" stop-color="#e02020"/></linearGradient>
    <radialGradient id="gBtn" cx="0.4" cy="0.3" r="0.75"><stop offset="0" stop-color="#8c8ce0"/><stop offset="0.6" stop-color="#4a4aa8"/><stop offset="1" stop-color="#262672"/></radialGradient>
    <linearGradient id="gCube" x1="0" y1="0" x2="1" y2="1"><stop offset="0" stop-color="#6a72b8"/><stop offset="1" stop-color="#2a3070"/></linearGradient>
    <linearGradient id="gGray" x1="0" y1="0" x2="1" y2="1"><stop offset="0" stop-color="#b8c0d8"/><stop offset="1" stop-color="#5a6488"/></linearGradient>
  </defs>
  <g fill="#777"><rect x="5" y="393.5" width="1" height="1"/><rect x="5" y="396" width="1" height="1"/><rect x="5" y="398.5" width="1" height="1"/><rect x="5" y="401" width="1" height="1"/><rect x="5" y="403.5" width="1" height="1"/></g>
  <polygon points="8.5,395.5 19,393 19,401.5 8.5,404.5" fill="url(#gRain2)"/>
  <polygon points="21.5,398 23.7,398 22.6,399.4" fill="#222"/>
  <g fill="#777"><rect x="28" y="393.5" width="1" height="1"/><rect x="28" y="396" width="1" height="1"/><rect x="28" y="398.5" width="1" height="1"/><rect x="28" y="401" width="1" height="1"/><rect x="28" y="403.5" width="1" height="1"/></g>
  <polygon points="46.5,395 50.5,393 54.5,395 50.5,397" fill="#6a72c0"/>
  <polygon points="46.5,395 50.5,397 50.5,401 46.5,399" fill="#3a4290"/>
  <polygon points="54.5,395 50.5,397 50.5,401 54.5,399" fill="#2a3070"/>
  <rect x="46.5" y="401.5" width="8" height="1.8" fill="url(#gRain)"/>
  <!-- By Comp combo -->
  <rect x="57.5" y="394.7" width="31" height="7.8" fill="#fff" stroke="#c8c8c8" stroke-width="0.6"/>
  <rect x="84" y="394.7" width="4.5" height="7.8" fill="#f0f0f0" stroke="#c8c8c8" stroke-width="0.6"/>
  <polygon points="85,397.8 87.5,397.8 86.25,399.4" fill="#555"/>
  <text x="59" y="400.8" font-size="5.6" fill="#222" font-family="'Liberation Sans', sans-serif">By Comp</text>
  <!-- wireframe cube -->
  <g fill="none" stroke="#666" stroke-width="0.6">
    <polygon points="90.5,395.5 95.5,393 100.5,395.5 100.5,401.5 95.5,404 90.5,401.5"/>
    <path d="M90.5,395.5 L95.5,398 L100.5,395.5 M95.5,398 V404 M92.2,394.7 L97.2,397.2 V403.2 M93.8,393.9 L98.8,396.4 M90.5,397.5 L95.5,400 L100.5,397.5 M90.5,399.5 L95.5,402 L100.5,399.5 M92.2,396.3 V402.3 M98.8,396.4 V402.4"/>
  </g>
  <polygon points="103.5,398 105.7,398 104.6,399.4" fill="#222"/>
  <polygon points="107.5,395.5 113.2,393 119,395.5 113.2,398" fill="#6a70b8"/>
  <polygon points="107.5,395.5 113.2,398 113.2,404 107.5,401.5" fill="#3a4090"/>
  <polygon points="119,395.5 113.2,398 113.2,404 119,401.5" fill="#262c70"/>
  <g stroke="#9aa0d8" stroke-width="0.35" fill="none"><path d="M109.4,396.3 L115.1,393.8 M111.3,397.1 L117,394.6 M109.4,394.7 L115.1,397.2 M111.3,393.9 L117,396.4"/></g>
  <polygon points="121.5,398 123.7,398 122.6,399.4" fill="#222"/>
  <polygon points="126,396 130,394 134,396 130,398" fill="#7a80b8"/>
  <polygon points="126,396 130,398 130,402 126,400" fill="#4a5090"/>
  <polygon points="129,399 133,397 137.5,399 133.5,401" fill="#8a90c0"/>
  <polygon points="129,399 133.5,401 133.5,404.5 129,402.5" fill="#4a5090"/>
  <polygon points="137.5,399 133.5,401 133.5,404.5 137.5,402.5" fill="#3a4080"/>
  <polygon points="139.3,402 143.5,394 143.5,402" fill="#4a5ad8"/>
  <rect x="144.4" y="393" width="1.3" height="11" fill="#999"/>
  <polygon points="150.9,402 146.6,394 146.6,402" fill="#4a5ad8"/>
  <polygon points="153.4,397.5 157.5,395.5 160,397 156,399" fill="#5af050"/>
  <rect x="153.4" y="397.5" width="5.5" height="5" fill="#10d010"/>
  <rect x="158.5" y="395" width="5.8" height="5.5" fill="#20e020"/>
  <rect x="157.5" y="399.5" width="5" height="4.5" fill="#18c818"/>
  <g fill="#777"><rect x="168" y="393.5" width="1" height="1"/><rect x="168" y="396" width="1" height="1"/><rect x="168" y="398.5" width="1" height="1"/><rect x="168" y="401" width="1" height="1"/><rect x="168" y="403.5" width="1" height="1"/></g>
  <polygon points="173.1,395.5 182.7,393 182.7,401.5 173.1,404" fill="url(#gRain2)"/>
  <polygon points="186.8,395 195.2,393 195.2,402 186.8,404" fill="#f4f4f4" stroke="#bbb" stroke-width="0.4"/>
  <g stroke-width="0.9"><line x1="189" y1="394.8" x2="189" y2="403.4" stroke="#3050e0"/><line x1="191" y1="394.3" x2="191" y2="402.9" stroke="#30c040"/><line x1="193" y1="393.8" x2="193" y2="402.4" stroke="#e03030"/></g>
  <polygon points="198.5,398.5 204.3,395.5 210.2,398.5 204.3,401.5" fill="none" stroke="#5a6ad0" stroke-width="0.8"/>
  <g stroke="#e02020" stroke-width="0.9"><line x1="204.3" y1="398.5" x2="204.3" y2="403.5"/><line x1="199" y1="398.5" x2="198.5" y2="401.5"/><line x1="209.7" y1="398.5" x2="210.2" y2="401.5"/></g>
  <circle cx="218.2" cy="398.5" r="5.6" fill="#9aa0b8"/>
  <circle cx="218.2" cy="398.5" r="5.6" fill="none" stroke="#555a78" stroke-width="0.6"/>
  <g stroke="#3a3f60" stroke-width="0.35" fill="none"><path d="M212.6,398.5 H223.8 M218.2,392.9 V404.1 M214.2,394.5 L222.2,402.5 M222.2,394.5 L214.2,402.5"/></g>
  <circle cx="216.5" cy="397" r="0.8" fill="#e02020"/><circle cx="219.8" cy="400" r="0.8" fill="#2040e0"/><circle cx="220" cy="396.5" r="0.7" fill="#20a020"/>
  <path d="M226.5,403 L230,399 L234,395 L237.5,393.5 L237.8,396 L234.5,400 L231,403.5 Z" fill="url(#gGray)"/>
  <rect x="226.3" y="401.5" width="4" height="2.5" fill="#5a6488"/>
  <polygon points="242.5,393 247,393 247,397 248.5,397 244.8,400.5 241,397 242.5,397" fill="#e02020"/>
  <circle cx="243" cy="401.5" r="2.3" fill="#f0d020"/><circle cx="246.5" cy="401.8" r="2.2" fill="#f0c010"/><circle cx="244.8" cy="403.2" r="1.6" fill="#f0d020"/>
  <g stroke-width="0.9"><line x1="253.5" y1="394.5" x2="253.5" y2="403" stroke="#3050e0"/><line x1="255.5" y1="394" x2="255.5" y2="402.5" stroke="#20b040"/><line x1="257.5" y1="393.5" x2="257.5" y2="402" stroke="#e02020"/><line x1="259.5" y1="393" x2="259.5" y2="400" stroke="#e02020"/></g>
  <text x="259" y="404.5" font-size="4" fill="#222" font-family="'Liberation Sans', sans-serif">xx</text>
  <path d="M268,400 L274,396 L277.5,396.5 L272,401 Z" fill="#4a6ad0"/>
  <path d="M268,403 L274,399 L277.5,399.5 L272,404 Z" fill="#3a5ac0"/>
  <path d="M269.5,398.5 L276.5,395.5" stroke="#e03030" stroke-width="0.9"/>
  <path d="M269.5,401.5 L276.5,398.5" stroke="#e03030" stroke-width="0.7"/>
  <path d="M281,394.5 L290.5,394 L285.5,403.5 Z" fill="url(#gGray)"/>
  <g stroke="#5a6488" stroke-width="0.4"><line x1="283" y1="394.4" x2="285.5" y2="403.5"/><line x1="285.5" y1="394.2" x2="285.5" y2="403.5"/><line x1="288" y1="394.1" x2="285.5" y2="403.5"/></g>
  <rect x="294" y="393.5" width="12" height="10" fill="#f4f4f4" stroke="#888" stroke-width="0.5"/>
  <rect x="294" y="393.5" width="12" height="2" fill="#d4d4d4"/>
  <circle cx="296.5" cy="395" r="2.3" fill="#1a5ad0"/>
  <g stroke="#4a5ad0" stroke-width="0.9" fill="none"><path d="M313,399 V403 M313,403 L309,405 M313,403 L317.5,405"/></g>
  <circle cx="315.5" cy="395.5" r="2.2" fill="#fff" stroke="#4a5ad0" stroke-width="0.8"/>
  <line x1="314" y1="397.3" x2="312.6" y2="399" stroke="#4a5ad0" stroke-width="0.9"/>
  <rect x="323.3" y="394.8" width="7.4" height="7" fill="#6a70b0"/>
  <rect x="324.5" y="396" width="5" height="4.6" fill="#8a90c8"/>
  <g stroke="#222" stroke-width="0.6"><path d="M323.3,398.3 H321.2 M330.7,398.3 H332.8 M327,394.8 V393.2 M327,401.8 V403.6"/></g>
  <g fill="#111"><polygon points="321.6,397 321.6,399.6 319.8,398.3"/><polygon points="332.4,397 332.4,399.6 334.2,398.3"/><polygon points="325.7,393.6 328.3,393.6 327,391.9"/><polygon points="325.7,403.2 328.3,403.2 327,405"/></g>
  <path d="M335.5,395.6 Q343.5,393 345.3,403.5" fill="none" stroke="#8a9a10" stroke-width="2.8"/>
  <path d="M335.5,395.6 Q343.5,393 345.3,403.5" fill="none" stroke="#d8e030" stroke-width="1.8"/>
  <g fill="#777"><rect x="350.5" y="393.5" width="1" height="1"/><rect x="350.5" y="396" width="1" height="1"/><rect x="350.5" y="398.5" width="1" height="1"/><rect x="350.5" y="401" width="1" height="1"/><rect x="350.5" y="403.5" width="1" height="1"/></g>
  <path d="M354,403 L358,399 L361.5,394.5 L363,396 L359.5,400.5 L356,403.5 Z" fill="url(#gGray)"/>
  <rect x="354" y="401" width="3.5" height="2.8" fill="#5a6488"/>
  <text x="360.5" y="405" font-size="4.5" fill="#222" font-family="'Liberation Sans', sans-serif">x</text>
  <path d="M367.5,397 Q367.5,393.5 373,393.5 Q378.7,393.5 378.7,397 Q378.7,400.5 373,400.5 L370,403 L370.5,400.2 Q367.5,399.5 367.5,397 Z" fill="#a8a8a8" stroke="#888" stroke-width="0.4"/>
  <path d="M381,403.5 L386,398 L390,394 L392.6,395 L392.6,403.5 Z" fill="url(#gGray)"/>
  <path d="M381,403.5 L389,396.5" stroke="#4a5ad0" stroke-width="0.8"/>
  <rect x="395" y="396" width="8" height="6.5" rx="1" fill="#8890b0"/>
  <circle cx="398" cy="395" r="2.2" fill="#6a72a0"/>
  <circle cx="403" cy="401" r="2.6" fill="#6a72a0"/>
  <rect x="408" y="397" width="6.5" height="7" fill="#a0a0a0" stroke="#777" stroke-width="0.4"/>
  <path d="M408,399.5 Q411,392 414,397 Q416.5,401 420,393.5" fill="none" stroke="#e02020" stroke-width="1"/>
  <path d="M408.5,397 Q412,401 414.5,396 Q417,392 420,395" fill="none" stroke="#2040e0" stroke-width="0.9"/>
  <g fill="#a03030"><rect x="423" y="393.5" width="1" height="1"/><rect x="423" y="396" width="1" height="1"/><rect x="423" y="398.5" width="1" height="1"/><rect x="423" y="401" width="1" height="1"/><rect x="423" y="403.5" width="1" height="1"/></g>
  <circle cx="432.5" cy="398.5" r="5.7" fill="url(#gBtn)"/>
  <rect x="429.5" y="397.8" width="6" height="1.4" fill="#c8c8f0"/>
  <polygon points="440.3,398 442.5,398 441.4,399.4" fill="#222"/>
  <circle cx="450.2" cy="398.5" r="5.8" fill="url(#gBtn)"/>
  <g fill="#fff"><rect x="447.3" y="395.6" width="1.2" height="5.8"/><polygon points="453.3,395.6 448.8,398.5 453.3,401.4"/></g>
  <circle cx="463.6" cy="398.5" r="5.8" fill="url(#gBtn)"/>
  <g fill="#fff"><polygon points="463.4,395.8 459.6,398.5 463.4,401.2"/><polygon points="467.2,395.8 463.4,398.5 467.2,401.2"/></g>
  <circle cx="477.2" cy="398.5" r="5.8" fill="url(#gBtn)"/>
  <g fill="#fff"><polygon points="475.5,395.4 480.3,398.5 475.5,401.6"/></g>
  <circle cx="491" cy="398.5" r="5.8" fill="url(#gBtn)"/>
  <g fill="#fff"><polygon points="487.6,395.8 491.4,398.5 487.6,401.2"/><polygon points="491.4,395.8 495.2,398.5 491.4,401.2"/></g>
  <circle cx="504.7" cy="398.5" r="5.8" fill="url(#gBtn)"/>
  <g fill="#fff"><polygon points="501.8,395.6 506.3,398.5 501.8,401.4"/><rect x="506.5" y="395.6" width="1.2" height="5.8"/></g>
  <!-- slider -->
  <rect x="511.5" y="395" width="83.7" height="4.4" fill="#d0d0d0" stroke="#c0c0c0" stroke-width="0.4"/>
  <rect x="511.5" y="400.6" width="83.7" height="1.8" fill="#d4d4d4"/>
  <rect x="534" y="395.5" width="5" height="3.4" fill="#f4f4f4" stroke="#999" stroke-width="0.3"/>
  <rect x="539.8" y="395.5" width="5" height="3.4" fill="#f4f4f4" stroke="#999" stroke-width="0.3"/>
  <rect x="585.5" y="400.4" width="9.5" height="2.2" fill="#f4f4f4" stroke="#aaa" stroke-width="0.3"/>
  <circle cx="602.9" cy="398.3" r="6.1" fill="url(#gBtn)"/>
  <circle cx="602.9" cy="398.3" r="2.6" fill="none" stroke="#fff" stroke-width="1.6" stroke-dasharray="1.1 0.9"/>
  <circle cx="602.9" cy="398.3" r="1.6" fill="none" stroke="#fff" stroke-width="0.9"/>
</svg>

<div class="abs" style="left:31.8px;top:393.6px;width:9.8px;height:9.8px;border-radius:50%;background:conic-gradient(from 0deg,#f0c000,#40d020 80deg,#00c8e0 140deg,#2030e0 200deg,#c020d0 260deg,#f02040 320deg,#f0c000)"></div>
<!-- bottom panel -->
<div class="abs" style="left:3px;top:408.5px;width:772.2px;height:1px;background:#dcdcdc"></div>
<div class="ui" style="left:4.6px;top:414.3px;font-size:5.2px;color:#222">Load model and results:</div>
<svg class="abs" style="left:14px;top:425px" width="6" height="16" viewBox="0 0 6 16">
  <rect x="0.4" y="0.5" width="5" height="4.6" fill="#fff" stroke="#555" stroke-width="0.6"/>
  <path d="M1.3,2.8 L2.5,4 L4.6,1.2" fill="none" stroke="#111" stroke-width="0.8"/>
  <rect x="0.4" y="10.6" width="5" height="4.6" fill="#fff" stroke="#555" stroke-width="0.6"/>
  <path d="M1.3,12.9 L2.5,14.1 L4.6,11.3" fill="none" stroke="#111" stroke-width="0.8"/>
</svg>
<div class="ui" style="left:22.9px;top:424.6px;font-size:5.1px;color:#222">Load model</div>
<div class="ui" style="left:22.4px;top:434.9px;font-size:5.1px;color:#222">Load results</div>
<svg class="abs" style="left:60px;top:424.5px" width="9" height="18" viewBox="0 0 9 18">
  <path d="M0.6,1.5 H3.5 L4.3,2.4 H7.5 V6.5 H0.6 Z" fill="#e8b040"/>
  <path d="M0.6,6.6 L1.8,3.3 H8.5 L7.5,6.6 Z" fill="#f8d060"/>
  <path d="M0.6,11.5 H3.5 L4.3,12.4 H7.5 V16.5 H0.6 Z" fill="#e8b040"/>
  <path d="M0.6,16.6 L1.8,13.3 H8.5 L7.5,16.6 Z" fill="#f8d060"/>
</svg>
<div class="abs" style="left:69.5px;top:422.9px;width:675px;height:9.4px;background:#fff;border-top:1.2px solid #a4a4a4;border-left:1px solid #a4a4a4"></div>
<div class="abs" style="left:69.5px;top:433px;width:675px;height:9px;background:#fff;border-top:1.2px solid #a4a4a4;border-left:1px solid #a4a4a4"></div>
<div class="ui" style="left:70.6px;top:424.8px;font-size:5.1px;color:#111">C:&#92;Users&#92;l&#92;bumper&#92;bumper_deck.key</div>
<div class="ui" style="left:70.6px;top:435px;font-size:5.1px;color:#111">C:&#92;Users&#92;l&#92;bumper&#92;d3plot</div>
<div class="abs" style="left:746.9px;top:425px;width:5.1px;height:4.7px;background:#fff;border-top:0.8px solid #666;border-left:0.8px solid #666"></div>
<div class="ui" style="left:755.1px;top:424.8px;font-size:5.1px;color:#222">Overlay</div>
<svg class="abs" style="left:745.5px;top:434.5px" width="9" height="8" viewBox="0 0 9 8"><rect x="0.5" y="1.5" width="4.5" height="6" fill="#d8d8d8" stroke="#666" stroke-width="0.5"/><rect x="2.5" y="2.5" width="4.5" height="5" fill="#f0f0f0" stroke="#666" stroke-width="0.5"/><path d="M5.5,3 L8,0.5 M6.2,0.5 H8 V2.3" stroke="#222" stroke-width="0.6" fill="none"/></svg>
<div class="ui" style="left:560.8px;top:480.3px;font-size:5.1px;color:#222">Result-Math template:</div>
<div class="abs" style="left:623.2px;top:477.7px;width:60px;height:10.4px;background:#fff;border:0.8px solid #a8a8a8;border-top-color:#888;border-left-color:#888"></div>
<div class="ui" style="left:625px;top:480.3px;font-size:5.1px;color:#111">Standard</div>
<svg class="abs" style="left:676px;top:479px" width="7" height="8" viewBox="0 0 7 8"><polygon points="1.3,3 5.7,3 3.5,5.3" fill="#111"/></svg>
<div class="abs" style="left:686.2px;top:477.7px;width:49px;height:10.4px;background:#f0f0f0;border:0.8px solid #a0a0a0;border-top-color:#fff;border-left-color:#fff;box-shadow:0.6px 0.6px 0 #777"></div>
<div class="ui" style="left:686.2px;top:480.3px;width:49px;text-align:center;font-size:5.1px;color:#222">Reader Options...</div>
<div class="abs" style="left:737.3px;top:477.7px;width:36.7px;height:10.4px;background:#f0f0f0;border:0.8px solid #a0a0a0;border-top-color:#fff;border-left-color:#fff;box-shadow:0.6px 0.6px 0 #777"></div>
<div class="ui" style="left:737.3px;top:480.3px;width:36.7px;text-align:center;font-size:5.1px;color:#222">Apply</div>
</body></html>
